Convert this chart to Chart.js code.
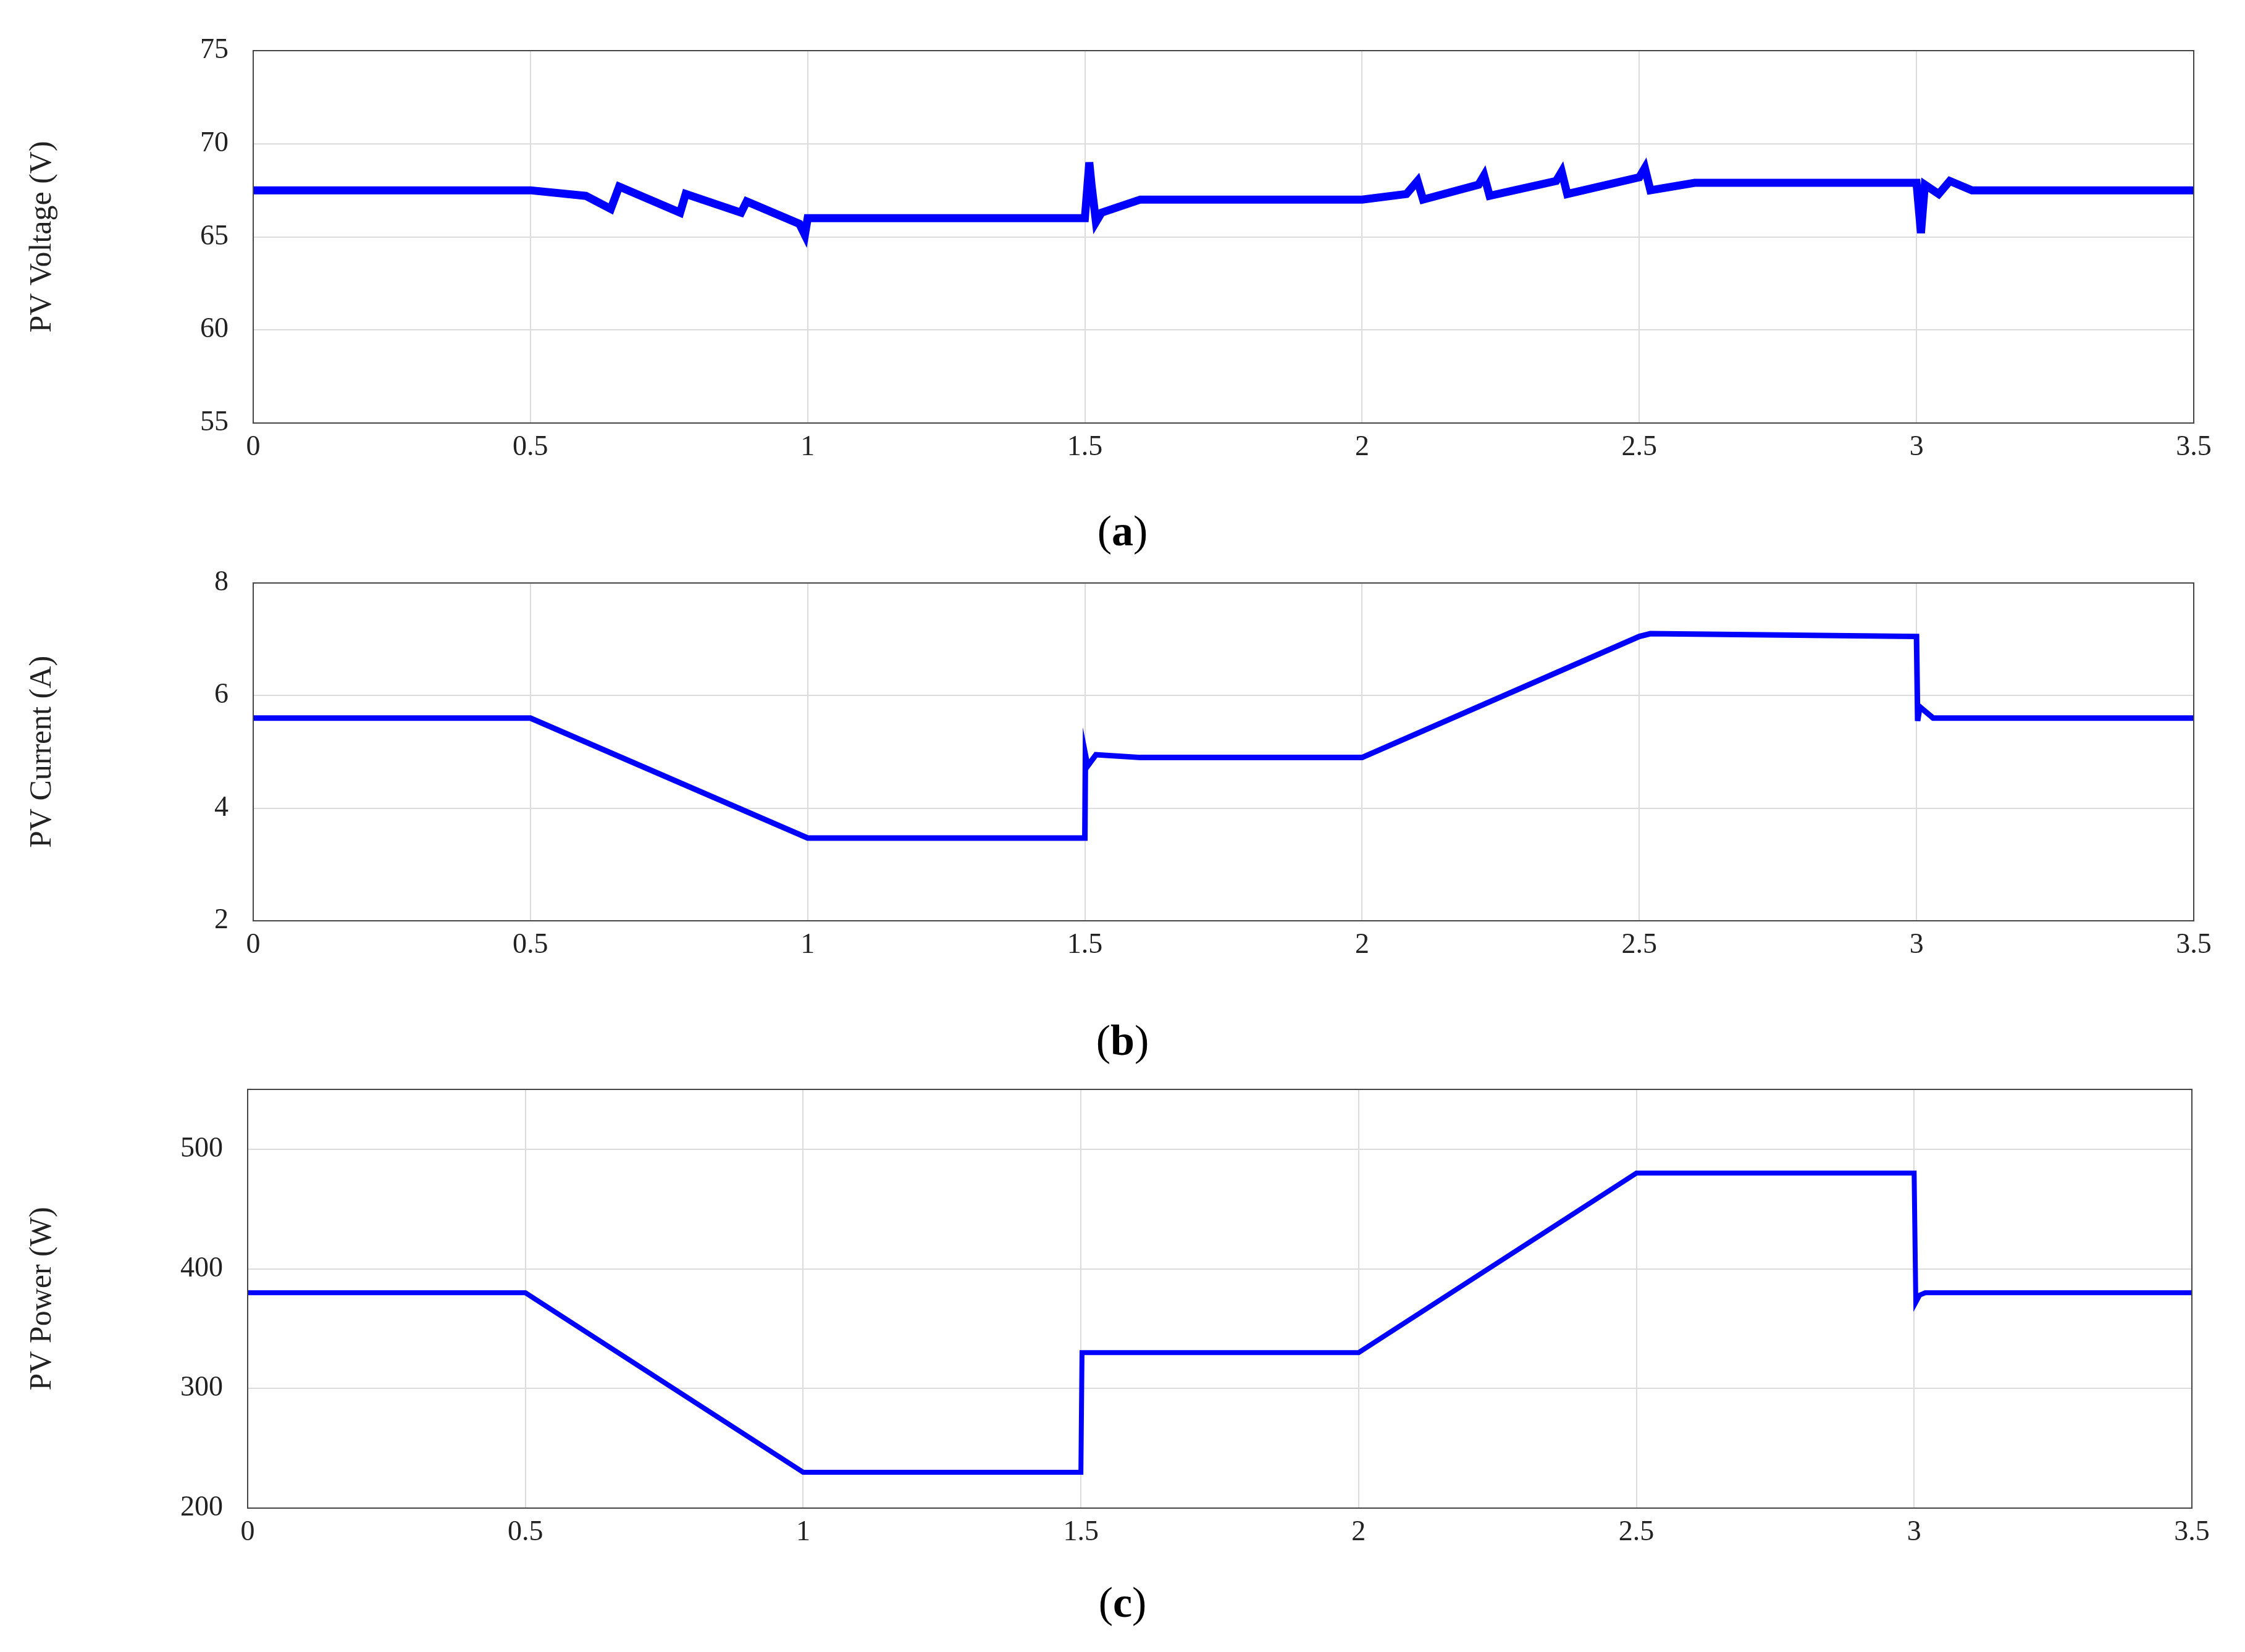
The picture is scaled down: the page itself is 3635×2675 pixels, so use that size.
<!DOCTYPE html>
<html>
<head>
<meta charset="utf-8">
<script src="https://cdn.jsdelivr.net/npm/chart.js@4"></script>
<style>
  body { margin: 0; background: #fff; width: 3635px; height: 2675px; position: relative; overflow: hidden; }
  .panel { position: absolute; left: 0; width: 3635px; }
  .lab { position: absolute; width: 3635px; text-align: center; font-family: "Liberation Serif", serif; font-size: 70px; }
</style>
</head>
<body>
<div class="panel" style="top:0;height:800px"><canvas id="voltageChart"></canvas></div>
<div class="lab" style="top:820px">(<b>a</b>)</div>
<div class="panel" style="top:862px;height:746px"><canvas id="currentChart"></canvas></div>
<div class="lab" style="top:1645px">(<b>b</b>)</div>
<div class="panel" style="top:1682px;height:878px"><canvas id="powerChart"></canvas></div>
<div class="lab" style="top:2555px">(<b>c</b>)</div>
<script>
// time breakpoints (s) and values
const voltageTime = [0, 0.5, 0.6, 0.645, 0.66, 0.77, 0.78, 0.88, 0.89, 0.985, 0.995, 1.0, 1.5, 1.508, 1.512, 1.52, 1.53, 1.6, 2.0, 2.08, 2.1, 2.11, 2.21, 2.22, 2.23, 2.35, 2.36, 2.37, 2.5, 2.51, 2.52, 2.6, 3.0, 3.008, 3.015, 3.04, 3.06, 3.1, 3.5];
const voltageValues = [67.5, 67.5, 67.2, 66.5, 67.7, 66.3, 67.3, 66.3, 66.9, 65.7, 65.1, 66.0, 66.0, 69.0, 67.8, 65.8, 66.3, 67.0, 67.0, 67.3, 68.0, 67.0, 67.8, 68.3, 67.2, 68.0, 68.5, 67.3, 68.2, 68.7, 67.5, 67.9, 67.9, 65.2, 67.8, 67.3, 68.0, 67.5, 67.5];
const currentTime = [0, 0.5, 1.0, 1.5, 1.501, 1.505, 1.52, 1.6, 2.0, 2.5, 2.52, 3.0, 3.002, 3.006, 3.03, 3.5];
const currentValues = [5.6, 5.6, 3.47, 3.47, 4.95, 4.75, 4.95, 4.9, 4.9, 7.05, 7.1, 7.05, 5.55, 5.8, 5.6, 5.6];
const powerTime = [0, 0.5, 1.0, 1.5, 1.502, 2.0, 2.5, 3.0, 3.003, 3.01, 3.02, 3.5];
const powerValues = [380, 380, 230, 230, 330, 330, 480, 480, 372, 378, 380, 380];

const serif = '"Liberation Serif", "DejaVu Serif", serif';

function makeChart(id, times, values, yMin, yMax, yStep, title, lineW, dims) {
  const pts = times.map((t, i) => ({ x: t, y: values[i] }));
  new Chart(document.getElementById(id).getContext('2d'), {
    type: 'line',
    data: { datasets: [{ data: pts, borderColor: '#0000ff', borderWidth: lineW, pointRadius: 0, tension: 0 }] },
    options: {
      responsive: true,
      maintainAspectRatio: false,
      animation: false,
      layout: { padding: { top: dims.top, right: dims.right, left: 35, bottom: 0 } },
      plugins: { legend: { display: false }, tooltip: { enabled: false } },
      scales: {
        x: {
          type: 'linear', min: 0, max: 3.5,
          ticks: { stepSize: 0.5, color: '#222', font: { family: serif, size: 46 }, padding: 12, maxRotation: 0,
                   callback: v => String(v) },
          grid: { color: '#dcdcdc', lineWidth: 2, tickLength: 0 },
          border: { color: '#444', width: 2 },
          afterFit: s => { s.height = dims.xh; }
        },
        y: {
          min: yMin, max: yMax,
          ticks: { stepSize: yStep, color: '#222', font: { family: serif, size: 46 }, padding: 40,
                   callback: v => (v > yMax - yStep / 2 && (yMax - yMin) % yStep) ? '' : v },
          grid: { color: '#dcdcdc', lineWidth: 2, tickLength: 0 },
          border: { color: '#444', width: 2 },
          title: { display: true, text: title, color: '#222', font: { family: serif, size: 50 } },
          afterFit: s => { s.width = dims.left - 35; }
        }
      }
    },
    plugins: [{
      id: 'frame',
      afterDraw(c) {
        const a = c.chartArea, g = c.ctx;
        g.save(); g.strokeStyle = '#444'; g.lineWidth = 2;
        g.strokeRect(a.left, a.top, a.right - a.left, a.bottom - a.top);
        g.restore();
      }
    }]
  });
}

document.addEventListener('DOMContentLoaded', function () {
  makeChart('voltageChart', voltageTime, voltageValues, 55, 75, 5, 'PV Voltage (V)', 13,
    { top: 82, right: 83, left: 410, xh: 115 });
  makeChart('currentChart', currentTime, currentValues, 2, 8, 2, 'PV Current (A)', 9,
    { top: 82, right: 83, left: 410, xh: 117 });
  makeChart('powerChart', powerTime, powerValues, 200, 550, 100, 'PV Power (W)', 8,
    { top: 82, right: 86, left: 401, xh: 118 });
});
</script>
</body>
</html>
